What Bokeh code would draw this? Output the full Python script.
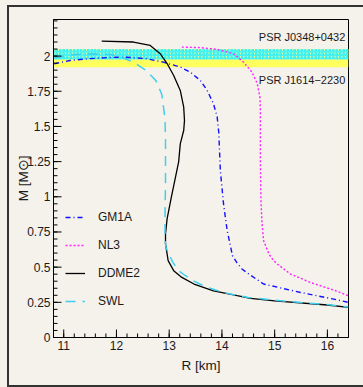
import numpy as np
from bokeh.plotting import figure
from bokeh.layouts import column
from bokeh.models import FixedTicker, Legend, LegendItem, Label, Range1d
from bokeh.embed import file_html
from bokeh.resources import INLINE

# ---------------- data ----------------
ddme2_R = [11.72, 12.32, 12.64, 12.83, 12.96, 13.085, 13.21, 13.275, 13.29, 13.275,
           13.21, 13.18, 13.04, 12.96, 12.93, 12.93, 12.96, 12.98, 13.085, 13.24,
           13.47, 13.84, 14.29, 14.54, 15.0, 16.0, 16.4]
ddme2_M = [2.107, 2.10, 2.076, 2.017, 1.947, 1.862, 1.756, 1.637, 1.542, 1.471,
           1.376, 1.25, 0.996, 0.843, 0.736, 0.665, 0.594, 0.546, 0.475, 0.427,
           0.38, 0.332, 0.297, 0.278, 0.261, 0.231, 0.214]

swl_R = [10.82, 11.22, 11.56, 11.88, 12.11, 12.33, 12.56, 12.75, 12.86, 12.92,
         12.93, 12.93, 12.92, 12.92, 12.94, 12.99, 13.07, 13.18, 13.31, 13.45,
         13.58, 13.73, 13.88, 14.03, 14.16, 14.5, 15.0, 15.5, 16.0, 16.4]
swl_M = [1.987, 2.012, 2.017, 2.012, 1.99, 1.955, 1.898, 1.824, 1.727, 1.557,
         1.40, 1.10, 0.85, 0.70, 0.64, 0.594, 0.534, 0.475, 0.439, 0.404,
         0.38, 0.356, 0.337, 0.32, 0.309, 0.285, 0.265, 0.248, 0.234, 0.216]

gm1a_R = [10.82, 11.12, 11.50, 11.82, 12.14, 12.55, 12.89, 13.21, 13.40, 13.59,
          13.72, 13.84, 13.91, 13.94, 13.97, 14.03, 14.10, 14.16, 14.20, 14.28,
          14.38, 14.51, 14.79, 15.49, 16.12, 16.40]
gm1a_M = [1.945, 1.969, 1.982, 1.989, 1.993, 1.982, 1.957, 1.922, 1.886, 1.827,
          1.756, 1.661, 1.566, 1.457, 1.186, 0.949, 0.759, 0.653, 0.581, 0.534,
          0.487, 0.451, 0.38, 0.32, 0.273, 0.249]

nl3_R = [13.24, 13.59, 13.91, 14.22, 14.41, 14.57, 14.67, 14.72, 14.73, 14.73,
         14.73, 14.74, 14.76, 14.79, 14.89, 14.98, 15.05, 15.30, 15.68, 16.12, 16.40]
nl3_M = [2.064, 2.06, 2.048, 2.017, 1.957, 1.886, 1.804, 1.708, 1.614, 1.472,
         1.237, 0.973, 0.809, 0.688, 0.594, 0.546, 0.522, 0.451, 0.391, 0.337, 0.297]

# pulsar mass bands (lower, upper)
band_j1614 = [1.92, 2.05]
band_j0348 = [1.975, 2.05]
psr_names = ["PSR J0348+0432", "PSR J1614\u22122230"]

x_ticks = [11, 12, 13, 14, 15, 16]
x_minor = [round(10.8 + 0.2 * i, 2) for i in range(29)]
y_ticks = [0, 0.25, 0.5, 0.75, 1, 1.25, 1.5, 1.75, 2]
y_minor = [round(0.05 * i, 2) for i in range(46)]
y_tick_labels = ["0", "0.25", "0.5", "0.75", "1", "1.25", "1.5", "1.75", "2"]

# ---------------- styling ----------------
BG = "#f5f1eb"
FONT = "Liberation Sans, Arial, sans-serif"
TXT = "#1a1a1a"
X0, X1 = 10.806, 16.40
Y0, Y1 = 0.0, 2.26

W, H = 354, 378
BL, BR, BT, BB = 44, 15, 12, 48
FW, FH = W - BL - BR, H - BT - BB

p = figure(width=W, height=H, output_backend="svg", toolbar_location=None,
           x_range=Range1d(X0, X1), y_range=Range1d(Y0, Y1),
           min_border_left=BL, min_border_right=BR, min_border_top=BT, min_border_bottom=BB)
p.background_fill_color = BG
p.border_fill_color = BG
p.outline_line_color = "black"
p.outline_line_width = 1
p.grid.visible = False

# bands
p.quad(left=[X0], right=[X1], bottom=[band_j1614[0]], top=[band_j1614[1]],
       fill_color="#ffff5e", line_color=None)
p.quad(left=[X0], right=[X1], bottom=[band_j0348[0]], top=[band_j0348[1]],
       fill_color="#f6ff9a", fill_alpha=1.0, line_color=None,
       hatch_pattern="/", hatch_color="#22eeff", hatch_scale=3.5, hatch_weight=1.3)

r_gm = p.line(gm1a_R, gm1a_M, line_color="#1010ff", line_width=1.4, line_dash="5 3 1 3")
r_nl = p.line(nl3_R, nl3_M, line_color="#ff22ff", line_width=1.4, line_dash="2 2")
r_dd = p.line(ddme2_R, ddme2_M, line_color="black", line_width=1.3)
r_sw = p.line(swl_R, swl_M, line_color="#3fcfef", line_width=1.5, line_dash="10 7")

# inward tick marks (drawn inside the frame from the tick lists)
fx = (X1 - X0) / FW
fy = (Y1 - Y0) / FH
p.segment(x0=x_ticks, x1=x_ticks, y0=[Y0] * len(x_ticks), y1=[Y0 + 8 * fy] * len(x_ticks),
          line_color="black", line_width=1)
p.segment(x0=x_minor, x1=x_minor, y0=[Y0] * len(x_minor), y1=[Y0 + 4 * fy] * len(x_minor),
          line_color="black", line_width=1)
p.segment(x0=[X0] * len(y_ticks), x1=[X0 + 8 * fx] * len(y_ticks), y0=y_ticks, y1=y_ticks,
          line_color="black", line_width=1)
p.segment(x0=[X0] * len(y_minor), x1=[X0 + 4 * fx] * len(y_minor), y0=y_minor, y1=y_minor,
          line_color="black", line_width=1)

legend = Legend(items=[LegendItem(label="GM1A", renderers=[r_gm]),
                       LegendItem(label="NL3", renderers=[r_nl]),
                       LegendItem(label="DDME2", renderers=[r_dd]),
                       LegendItem(label="SWL", renderers=[r_sw])],
                location=(12, 26), padding=0, margin=0, spacing=8,
                glyph_width=20, glyph_height=20, label_height=20, label_standoff=13,
                label_text_font=FONT, label_text_font_size="12px", label_text_color=TXT,
                border_line_alpha=0, background_fill_alpha=0)
p.add_layout(legend)

# axes
for ax in (p.xaxis[0], p.yaxis[0]):
    ax.major_tick_in = 0
    ax.major_tick_out = 0
    ax.minor_tick_in = 0
    ax.minor_tick_out = 0
    ax.major_tick_line_color = None
    ax.minor_tick_line_color = None
    ax.major_label_text_font = FONT
    ax.major_label_text_font_size = "12px"
    ax.major_label_text_color = TXT
    ax.axis_line_color = "black"
    ax.major_label_standoff = 3

p.xaxis.ticker = FixedTicker(ticks=x_ticks, minor_ticks=x_minor)
p.yaxis.ticker = FixedTicker(ticks=y_ticks, minor_ticks=y_minor)
p.yaxis.major_label_overrides = {t: s for t, s in zip(y_ticks, y_tick_labels)}
p.xaxis.axis_label = "R [km]"
p.yaxis.axis_label = "M [M\u2299]"
for ax in (p.xaxis[0], p.yaxis[0]):
    ax.axis_label_text_font = FONT
    ax.axis_label_text_font_size = "13.5px"
    ax.axis_label_text_font_style = "normal"
    ax.axis_label_text_color = TXT
p.xaxis.axis_label_standoff = 5
p.yaxis.axis_label_standoff = -7

# pulsar labels
p.add_layout(Label(x=16.34, y=2.136, text=psr_names[0], text_align="right", text_baseline="middle",
                   text_font=FONT, text_font_size="11px", text_color=TXT))
p.add_layout(Label(x=16.34, y=1.827, text=psr_names[1], text_align="right", text_baseline="middle",
                   text_font=FONT, text_font_size="11px", text_color=TXT))

# canvas frame around the figure (left / top / bottom lines as in the reference)
inner = column(p, styles={"border-left": "2px solid #333", "border-top": "2px solid #333",
                          "border-bottom": "2px solid #333"})
page = column(inner, styles={"background-color": BG, "padding-left": "7px", "padding-top": "5px"})

open("out.html", "w").write(file_html(page, INLINE))
